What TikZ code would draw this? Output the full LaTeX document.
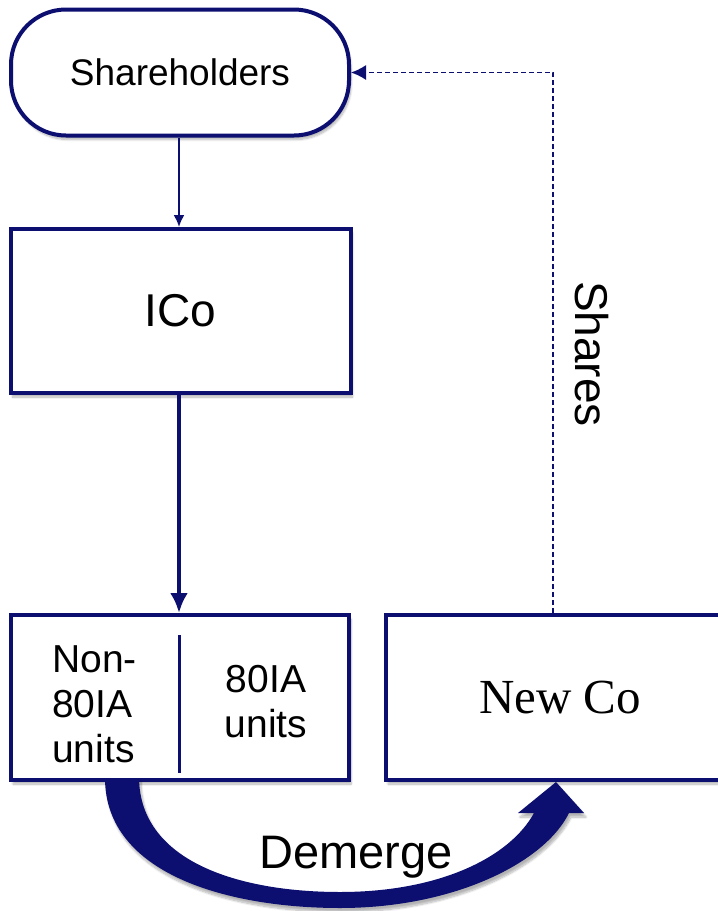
\documentclass[tikz,border=0pt]{standalone}
\usepackage{fontspec}
\setmainfont{Liberation Sans}
\newfontfamily\timesfont{Liberation Serif}
\usetikzlibrary{arrows.meta,shadows.blur}
\definecolor{navy}{RGB}{12,15,112}
\begin{document}
\begin{tikzpicture}[x=1pt,y=-1pt,
  softshadow/.style={blur shadow={shadow xshift=2pt,shadow yshift=-4pt,shadow blur steps=8,shadow opacity=30}},
  box/.style={draw=navy,line width=4pt,fill=white,inner sep=0pt,softshadow},
  label/.style={inner sep=0pt,text=black},
  thinlink/.style={draw=navy,line width=2pt,-{Latex[length=12pt,width=11pt]}},
  thicklink/.style={draw=navy,line width=4.5pt,-{Latex[length=20pt,width=18pt]}},
  shareslink/.style={draw=navy,line width=1.5pt,dash pattern=on 5pt off 3pt,-{Latex[length=15pt,width=15pt]}}]
\useasboundingbox (0,0) rectangle (718,911);

% entities
\node[box,rounded corners=55pt,minimum width=338pt,minimum height=126pt,
      font=\fontsize{37}{44}\selectfont] (sh) at (180,72.5) {Shareholders};
\node[box,minimum width=340pt,minimum height=164pt,
      font=\fontsize{46}{52}\selectfont] (ico) at (180.5,311) {ICo};
\node[box,minimum width=338pt,minimum height=165pt] (units) at (180,697.5) {};
\node[box,minimum width=348pt,minimum height=165pt,
      font=\timesfont\fontsize{49}{56}\selectfont] (newco) at (560,697.5) {New Co};

% split of the operating units
\coordinate (divtop) at (179,635);
\coordinate (divbot) at (179,773);
\draw[navy,line width=3pt] (divtop) -- (divbot);
\node[label,anchor=north west,align=left,font=\fontsize{39}{45}\selectfont]
  (non80) at (52,645) {Non-\\80IA\\units};
\node[label,anchor=north,align=center,font=\fontsize{39}{45}\selectfont]
  (is80) at (266,665) {80IA\\units};

% ownership links
\draw[thinlink] (sh.south -| divtop) -- (ico.north -| divtop);
\draw[thicklink] (ico.south -| divtop) -- (units.north -| divtop);

% shares issued back to shareholders
\coordinate (turn) at (553,72.5);
\draw[shareslink] (newco.north -| turn) -- (turn) -- (sh.east);
\node[label,rotate=-90,font=\fontsize{46}{52}\selectfont] (shares) at (591.5,354) {Shares};

% demerger arrow
\fill[navy,softshadow]
  (105,778) .. controls (105,875) and (230,908) .. (340,908)
  .. controls (455,908) and (545,862) .. (569,813)
  -- (584,813) -- (556,782) -- (518,813) -- (534,813)
  .. controls (510,857) and (440,892) .. (340,892)
  .. controls (240,892) and (140,862) .. (139,778) -- cycle;
\node[label,anchor=base,font=\fontsize{47}{54}\selectfont] (demerge) at (356,868) {Demerge};
\end{tikzpicture}
\end{document}
